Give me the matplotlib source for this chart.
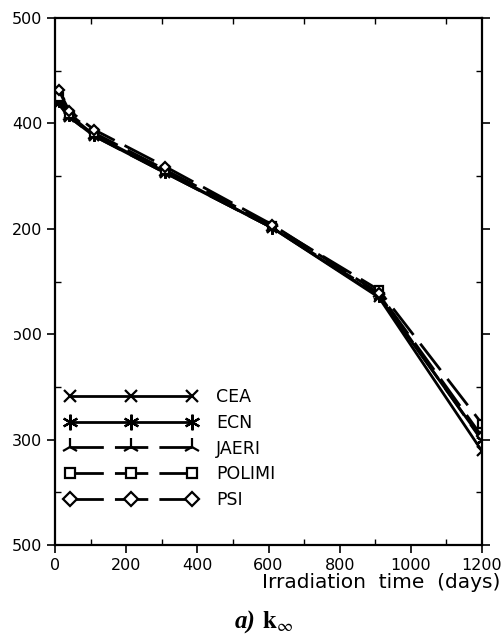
import matplotlib
matplotlib.use("Agg")
import matplotlib.pyplot as plt
from matplotlib.ticker import MultipleLocator, FixedLocator

days = [10, 40, 110, 310, 610, 910, 1200]
cea = [1.4194, 1.406, 1.388, 1.353, 1.301, 1.235, 1.089]
ecn = [1.4213, 1.408, 1.389, 1.354, 1.301, 1.236, 1.100]
jaeri = [1.4184, 1.406, 1.388, 1.353, 1.301, 1.238, 1.099]
polimi = [1.425, 1.409, 1.391, 1.356, 1.303, 1.242, 1.115]
psi = [1.4317, 1.412, 1.394, 1.359, 1.304, 1.239, 1.103]

ytick_vals = [1.0, 1.1, 1.2, 1.3, 1.4, 1.5]
ytick_labels = ["500", "300", "ɔ00", "200", "400", "500"]
xtick_vals = [0, 200, 400, 600, 800, 1000, 1200]

W, H = 502, 642
fig = plt.figure(figsize=(W / 100, H / 100), dpi=100)
ax = fig.add_axes([55 / W, 1 - 545 / H, (482 - 55) / W, (545 - 18) / H])

lw = 2.0
series = [
    ("CEA", cea, "x", "-", 7, None),
    ("ECN", ecn, (6, 2, 0), "-", 9, None),
    ("JAERI", jaeri, "2", "--", 10, (12, 4)),
    ("POLIMI", polimi, "s", "--", 5.5, (12, 4)),
    ("PSI", psi, "D", "--", 5.5, (12, 4)),
]
for name, vals, mk, ls, ms, dash in series:
    kw = dict(color="black", lw=lw, marker=mk, markersize=ms,
              markeredgewidth=1.6, markerfacecolor="white",
              markeredgecolor="black", label=name)
    if dash is not None:
        kw["dashes"] = dash
    ax.plot(days, vals, **kw)

ax.set_xlim(0, 1200)
ax.set_ylim(1.0, 1.5)
ax.xaxis.set_major_locator(FixedLocator(xtick_vals))
ax.xaxis.set_minor_locator(MultipleLocator(100))
ax.yaxis.set_major_locator(FixedLocator(ytick_vals))
ax.yaxis.set_minor_locator(MultipleLocator(0.05))
ax.set_yticklabels(ytick_labels)
ax.tick_params(axis="both", which="major", direction="out", length=6,
               width=1.2, labelsize=11.5, pad=3)
ax.tick_params(axis="both", which="minor", direction="in", length=4,
               width=1.0)
ax.tick_params(axis="y", which="both", right=True)
ax.tick_params(axis="x", which="minor", top=True)
for s in ax.spines.values():
    s.set_linewidth(1.6)

fig.text(500 / W, 1 - 583 / H, "Irradiation  time  (days)",
         ha="right", va="center", fontsize=14.5)

fig.text(262 / W, 1 - 622 / H, r"$\mathbf{k}_{\infty}$", ha="left",
         va="center", fontsize=18, math_fontfamily="stix")
fig.text(256 / W, 1 - 622 / H, "a)", ha="right", va="center", fontsize=18,
         family="Liberation Serif", style="italic", weight="bold")

leg = ax.legend(loc="upper left", bbox_to_anchor=(58 / W, 1 - 381 / H),
                bbox_transform=fig.transFigure, frameon=False, numpoints=3,
                handlelength=7.6, fontsize=12.5, labelspacing=0.45,
                handletextpad=1.1, borderaxespad=0, markerscale=1.25)

fig.savefig("out.png", dpi=100)
